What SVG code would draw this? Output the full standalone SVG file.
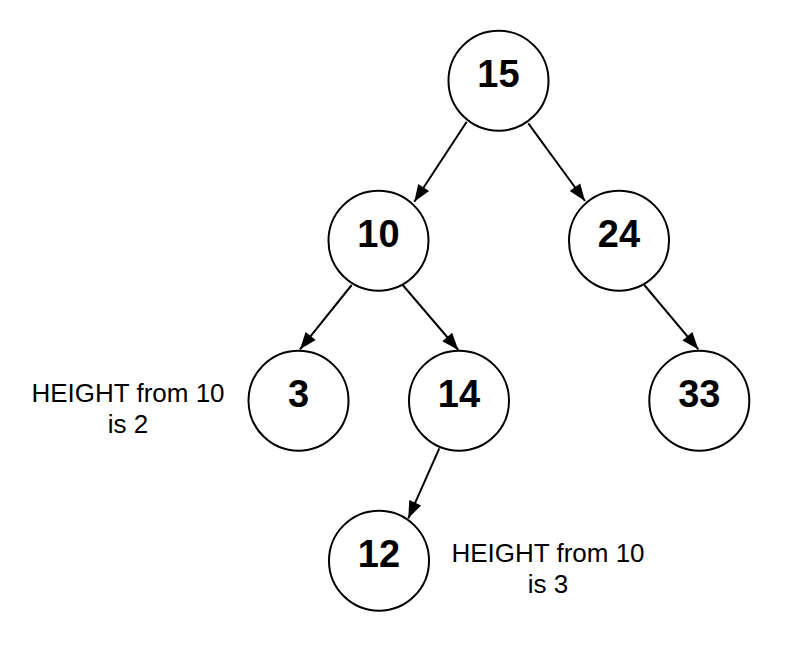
<svg xmlns="http://www.w3.org/2000/svg" width="789" height="649" viewBox="0 0 789 649">
<style>
.node circle{fill:#fff;stroke:#000;stroke-width:2}
.node text{font-family:"Liberation Sans",Arial,sans-serif;font-weight:bold;font-size:38px;text-anchor:middle;fill:#000}
.edge{stroke:#000;stroke-width:2;fill:none;marker-end:url(#arr)}
.note{font-family:"Liberation Sans",Arial,sans-serif;font-size:26px;text-anchor:middle;fill:#000}
</style>
<defs>
<marker id="arr" markerUnits="userSpaceOnUse" markerWidth="20" markerHeight="16" viewBox="0 0 20 16" refX="18" refY="8" orient="auto">
<path d="M1,1.5 L18,8 L1,14.5 Z" fill="#000"/>
</marker>
</defs>
<rect width="789" height="649" fill="#fff"/>
<g id="connectors">
<path class="edge" d="M466.7,121.7 L414.3,201.7"/>
<path class="edge" d="M528.3,123.3 L585,201"/>
<path class="edge" d="M351.7,285 L300,349.3"/>
<path class="edge" d="M402.7,285 L458.3,350"/>
<path class="edge" d="M644.3,285 L698.3,349.3"/>
<path class="edge" d="M439.3,448.3 L408.3,518.3"/>
</g>
<g id="n15" class="node"><circle cx="498.5" cy="80.7" r="50"/><text x="498.5" y="86.7">15</text></g>
<g id="n10" class="node"><circle cx="378.5" cy="240.7" r="50"/><text x="378.5" y="246.7">10</text></g>
<g id="n24" class="node"><circle cx="619" cy="240.7" r="50"/><text x="619" y="246.7">24</text></g>
<g id="n3" class="node"><circle cx="298.5" cy="400.7" r="50"/><text x="298.5" y="406.7">3</text></g>
<g id="n14" class="node"><circle cx="459" cy="400.7" r="50"/><text x="459" y="406.7">14</text></g>
<g id="n33" class="node"><circle cx="699.3" cy="400.7" r="50"/><text x="699.3" y="406.7">33</text></g>
<g id="n12" class="node"><circle cx="379" cy="560.7" r="50"/><text x="379" y="566.7">12</text></g>
<g id="label1"><text class="note" x="128" y="402.3">HEIGHT from 10</text><text class="note" x="128" y="433.3">is 2</text></g>
<g id="label2"><text class="note" x="548" y="561.7">HEIGHT from 10</text><text class="note" x="548" y="592.7">is 3</text></g>
</svg>
